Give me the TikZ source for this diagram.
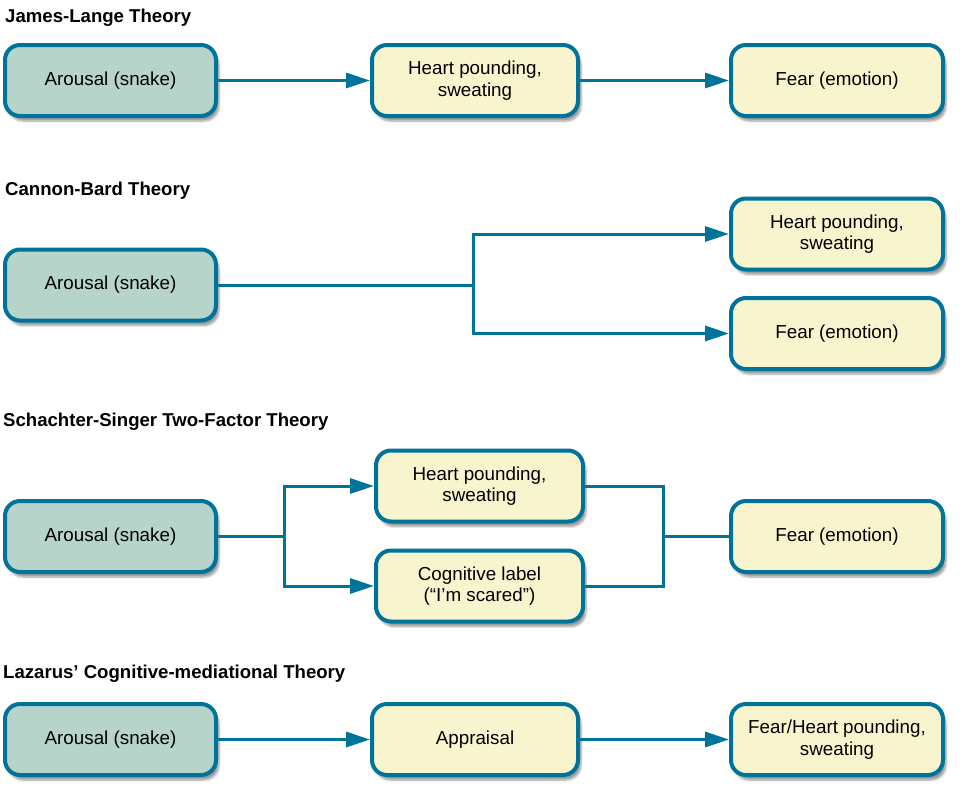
\documentclass[tikz,border=0pt]{standalone}
\usepackage{fontspec}
\setmainfont{Liberation Sans}
\usetikzlibrary{arrows.meta,shadows.blur}
\definecolor{edge}{HTML}{00739A}
\definecolor{greenfill}{HTML}{B6D4CA}
\definecolor{yellowfill}{HTML}{F8F5CE}
\tikzset{
  box/.style={draw=edge, line width=4pt, rounded corners=15pt, align=center,
    minimum height=71pt, inner sep=2pt,
    font=\fontsize{18.8}{21.5}\selectfont,
    blur shadow={shadow xshift=3pt, shadow yshift=-5pt, shadow opacity=40, shadow blur steps=6}},
  greenbox/.style={box, fill=greenfill},
  yellowbox/.style={box, fill=yellowfill},
  title/.style={anchor=west, inner sep=0pt, font=\bfseries\fontsize{18.6}{21}\selectfont},
  conn/.style={draw=edge, line width=3pt},
  arr/.style={conn, -{Triangle[length=24pt,width=15pt]}},
}
\begin{document}
\begin{tikzpicture}[x=1pt,y=-1pt]
\useasboundingbox (0,0) rectangle (964,798);
% Row 1
\node[title] (t1) at (5,18) {James-Lange Theory};
\node[greenbox, minimum width=211pt] (a1) at (110.5,80.5) {Arousal (snake)};
\node[yellowbox, minimum width=206pt] (h1) at (475,80.5) {Heart pounding,\\sweating};
\node[yellowbox, minimum width=212pt] (f1) at (837,80.5) {Fear (emotion)};
\draw[arr] (a1) -- (h1);
\draw[arr] (h1) -- (f1);
% Row 2
\node[title] (t2) at (5,191) {Cannon-Bard Theory};
\node[greenbox, minimum width=211pt] (a2) at (110.5,285) {Arousal (snake)};
\node[yellowbox, minimum width=212pt] (h2) at (837,234) {Heart pounding,\\sweating};
\node[yellowbox, minimum width=212pt] (f2) at (837,333.5) {Fear (emotion)};
\coordinate (b2) at (473,285);
\draw[conn] (a2.east) -- (b2);
\draw[arr] (b2) |- (h2.west);
\draw[arr] (b2) |- (f2.west);
% Row 3
\node[title] (t3) at (3,422) {Schachter-Singer Two-Factor Theory};
\node[greenbox, minimum width=211pt] (a3) at (110.5,536.5) {Arousal (snake)};
\node[yellowbox, minimum width=207pt] (h3) at (479.5,486) {Heart pounding,\\sweating};
\node[yellowbox, minimum width=207pt] (c3) at (479.5,586) {Cognitive label\\(“I’m scared”)};
\node[yellowbox, minimum width=212pt] (f3) at (837,536.5) {Fear (emotion)};
\coordinate (b3) at (284,536.5);
\coordinate (m3) at (663,536.5);
\draw[conn] (a3.east) -- (b3);
\draw[arr] (b3) |- (h3.west);
\draw[arr] (b3) |- (c3.west);
\draw[conn] (h3.east) -| (m3);
\draw[conn] (c3.east) -| (m3);
\draw[conn] (m3) -- (f3.west);
% Row 4
\node[title] (t4) at (3,674) {Lazarus’ Cognitive-mediational Theory};
\node[greenbox, minimum width=211pt] (a4) at (110.5,739.5) {Arousal (snake)};
\node[yellowbox, minimum width=206pt] (p4) at (475,739.5) {Appraisal};
\node[yellowbox, minimum width=212pt] (f4) at (837,739.5) {Fear/Heart pounding,\\sweating};
\draw[arr] (a4) -- (p4);
\draw[arr] (p4) -- (f4);
\end{tikzpicture}
\end{document}
